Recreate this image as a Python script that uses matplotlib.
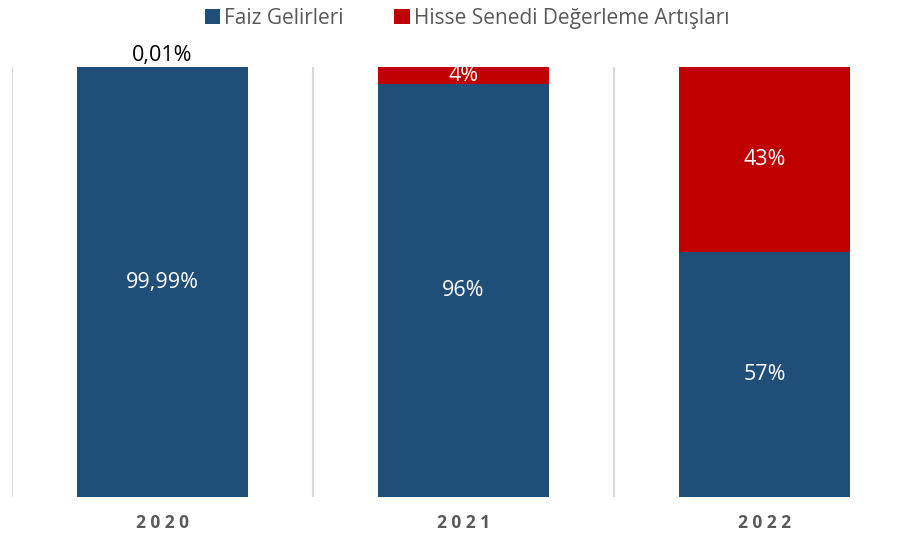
import matplotlib.pyplot as plt
import numpy as np

# data
years = ["2020", "2021", "2022"]
faiz = [99.99, 96, 57]
hisse = [0.01, 4, 43]
faiz_labels = ["99,99%", "96%", "57%"]
hisse_labels = ["0,01%", "4%", "43%"]

blue = "#1F4E79"
red = "#C00000"

plt.rcParams['font.family'] = ['Open Sans', 'DejaVu Sans']

fig = plt.figure(figsize=(9.05, 5.4), dpi=100)
ax = fig.add_axes([12/905, 43/540, 903/905, 430/540])

x = np.arange(len(years))
b1 = ax.bar(x, faiz, width=0.565, color=blue, label="Faiz Gelirleri")
b2 = ax.bar(x, hisse, width=0.565, bottom=faiz, color=red, label="Hisse Senedi Değerleme Artışları")

ax.set_xlim(-0.5, 2.5)
ax.set_ylim(0, 100)

# separators between categories
for xv in [-0.5, 0.5, 1.5]:
    ax.axvline(xv, color="#D9D9D9", lw=1.5, zorder=0)

for i in range(len(years)):
    ax.text(x[i], faiz[i] / 2, faiz_labels[i], ha="center", va="center",
            color="white", fontsize=15.5)
    if hisse[i] < 1:
        ax.text(x[i], 100.2, hisse_labels[i], ha="center", va="bottom",
                color="black", fontsize=15.5)
    else:
        ax.text(x[i], faiz[i] + hisse[i] / 2, hisse_labels[i], ha="center",
                va="center", color="white", fontsize=15.5)

for s in ax.spines.values():
    s.set_visible(False)
ax.set_yticks([])
ax.set_xticks(x)
ax.set_xticklabels([" ".join(y) for y in years], fontsize=12.5, fontweight="bold",
                   color="#595959")
ax.tick_params(axis="x", length=0, pad=12)

fig.legend(handles=[b1, b2], loc="upper center", bbox_to_anchor=(0.516, 1.02),
           ncol=2, frameon=False, fontsize=15, labelcolor="#595959",
           handlelength=0.75, handleheight=0.75, handletextpad=0.2,
           columnspacing=2.4)

fig.savefig("out.png", dpi=100)
